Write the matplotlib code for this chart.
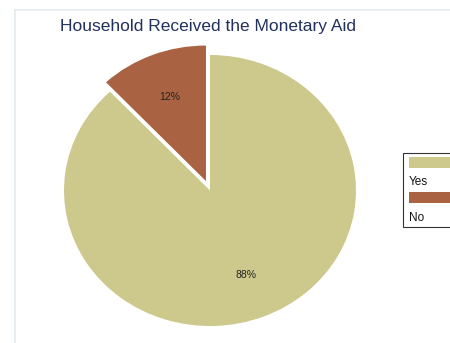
import matplotlib
matplotlib.use("Agg")
import matplotlib.pyplot as plt
from matplotlib.patches import Rectangle

plt.rcParams['font.family'] = ['Liberation Sans', 'DejaVu Sans']

categories = ["Yes", "No"]
shares = [88, 12]
colors = ["#cdc88c", "#a96342"]
explode = [0.0, 0.075]
title = "Household Received the Monetary Aid"

W, H = 450, 343
fig = plt.figure(figsize=(W / 100, H / 100), dpi=100)
fig.patch.set_facecolor("white")

def fx(px):
    return px / W

def fy(py):
    return 1 - py / H

# outer graph region outline
fig.patches.append(Rectangle((fx(15), fy(343 + 20)), fx(460), (343 + 10) / H,
                             transform=fig.transFigure, fill=False,
                             edgecolor="#e6eef2", linewidth=1.4))

# pie axes: center (210, 190.5), radii 146 x 135.5 px
cx, cy, rx, ry = 210, 190.5, 146, 135.5
ax = fig.add_axes([fx(cx - rx), fy(cy + ry), 2 * rx / W, 2 * ry / H])
wedges, texts, autotexts = ax.pie(
    shares, colors=colors, explode=explode, startangle=90, counterclock=False,
    autopct=lambda p: f"{p:.0f}%", pctdistance=0.67,
    wedgeprops=dict(linewidth=0),
    textprops=dict(fontsize=7.5, color="#222222"))
ax.set_aspect("auto")
ax.set_xlim(-1, 1)
ax.set_ylim(-1, 1)
for w in wedges:
    w.set_clip_on(False)
ax.axis("off")

fig.text(fx(60), fy(27), title, fontsize=12.5, color="#22305e",
         ha="left", va="center")

# legend box
lx0, ly0, lx1, ly1 = 403, 153, 460, 227
fig.patches.append(Rectangle((fx(lx0), fy(ly1)), fx(lx1 - lx0), (ly1 - ly0) / H,
                             transform=fig.transFigure, facecolor="white",
                             edgecolor="#333333", linewidth=0.8))
patch_tops = [157, 192]
label_ys = [182, 218]
for cat, col, pt, ly in zip(categories, colors, patch_tops, label_ys):
    fig.patches.append(Rectangle((fx(409), fy(pt + 11)), fx(50), 11 / H,
                                 transform=fig.transFigure, facecolor=col,
                                 edgecolor="none"))
    fig.text(fx(409), fy(ly), cat, fontsize=8.5, color="#111111",
             ha="left", va="center")

fig.savefig("out.png", dpi=100)
